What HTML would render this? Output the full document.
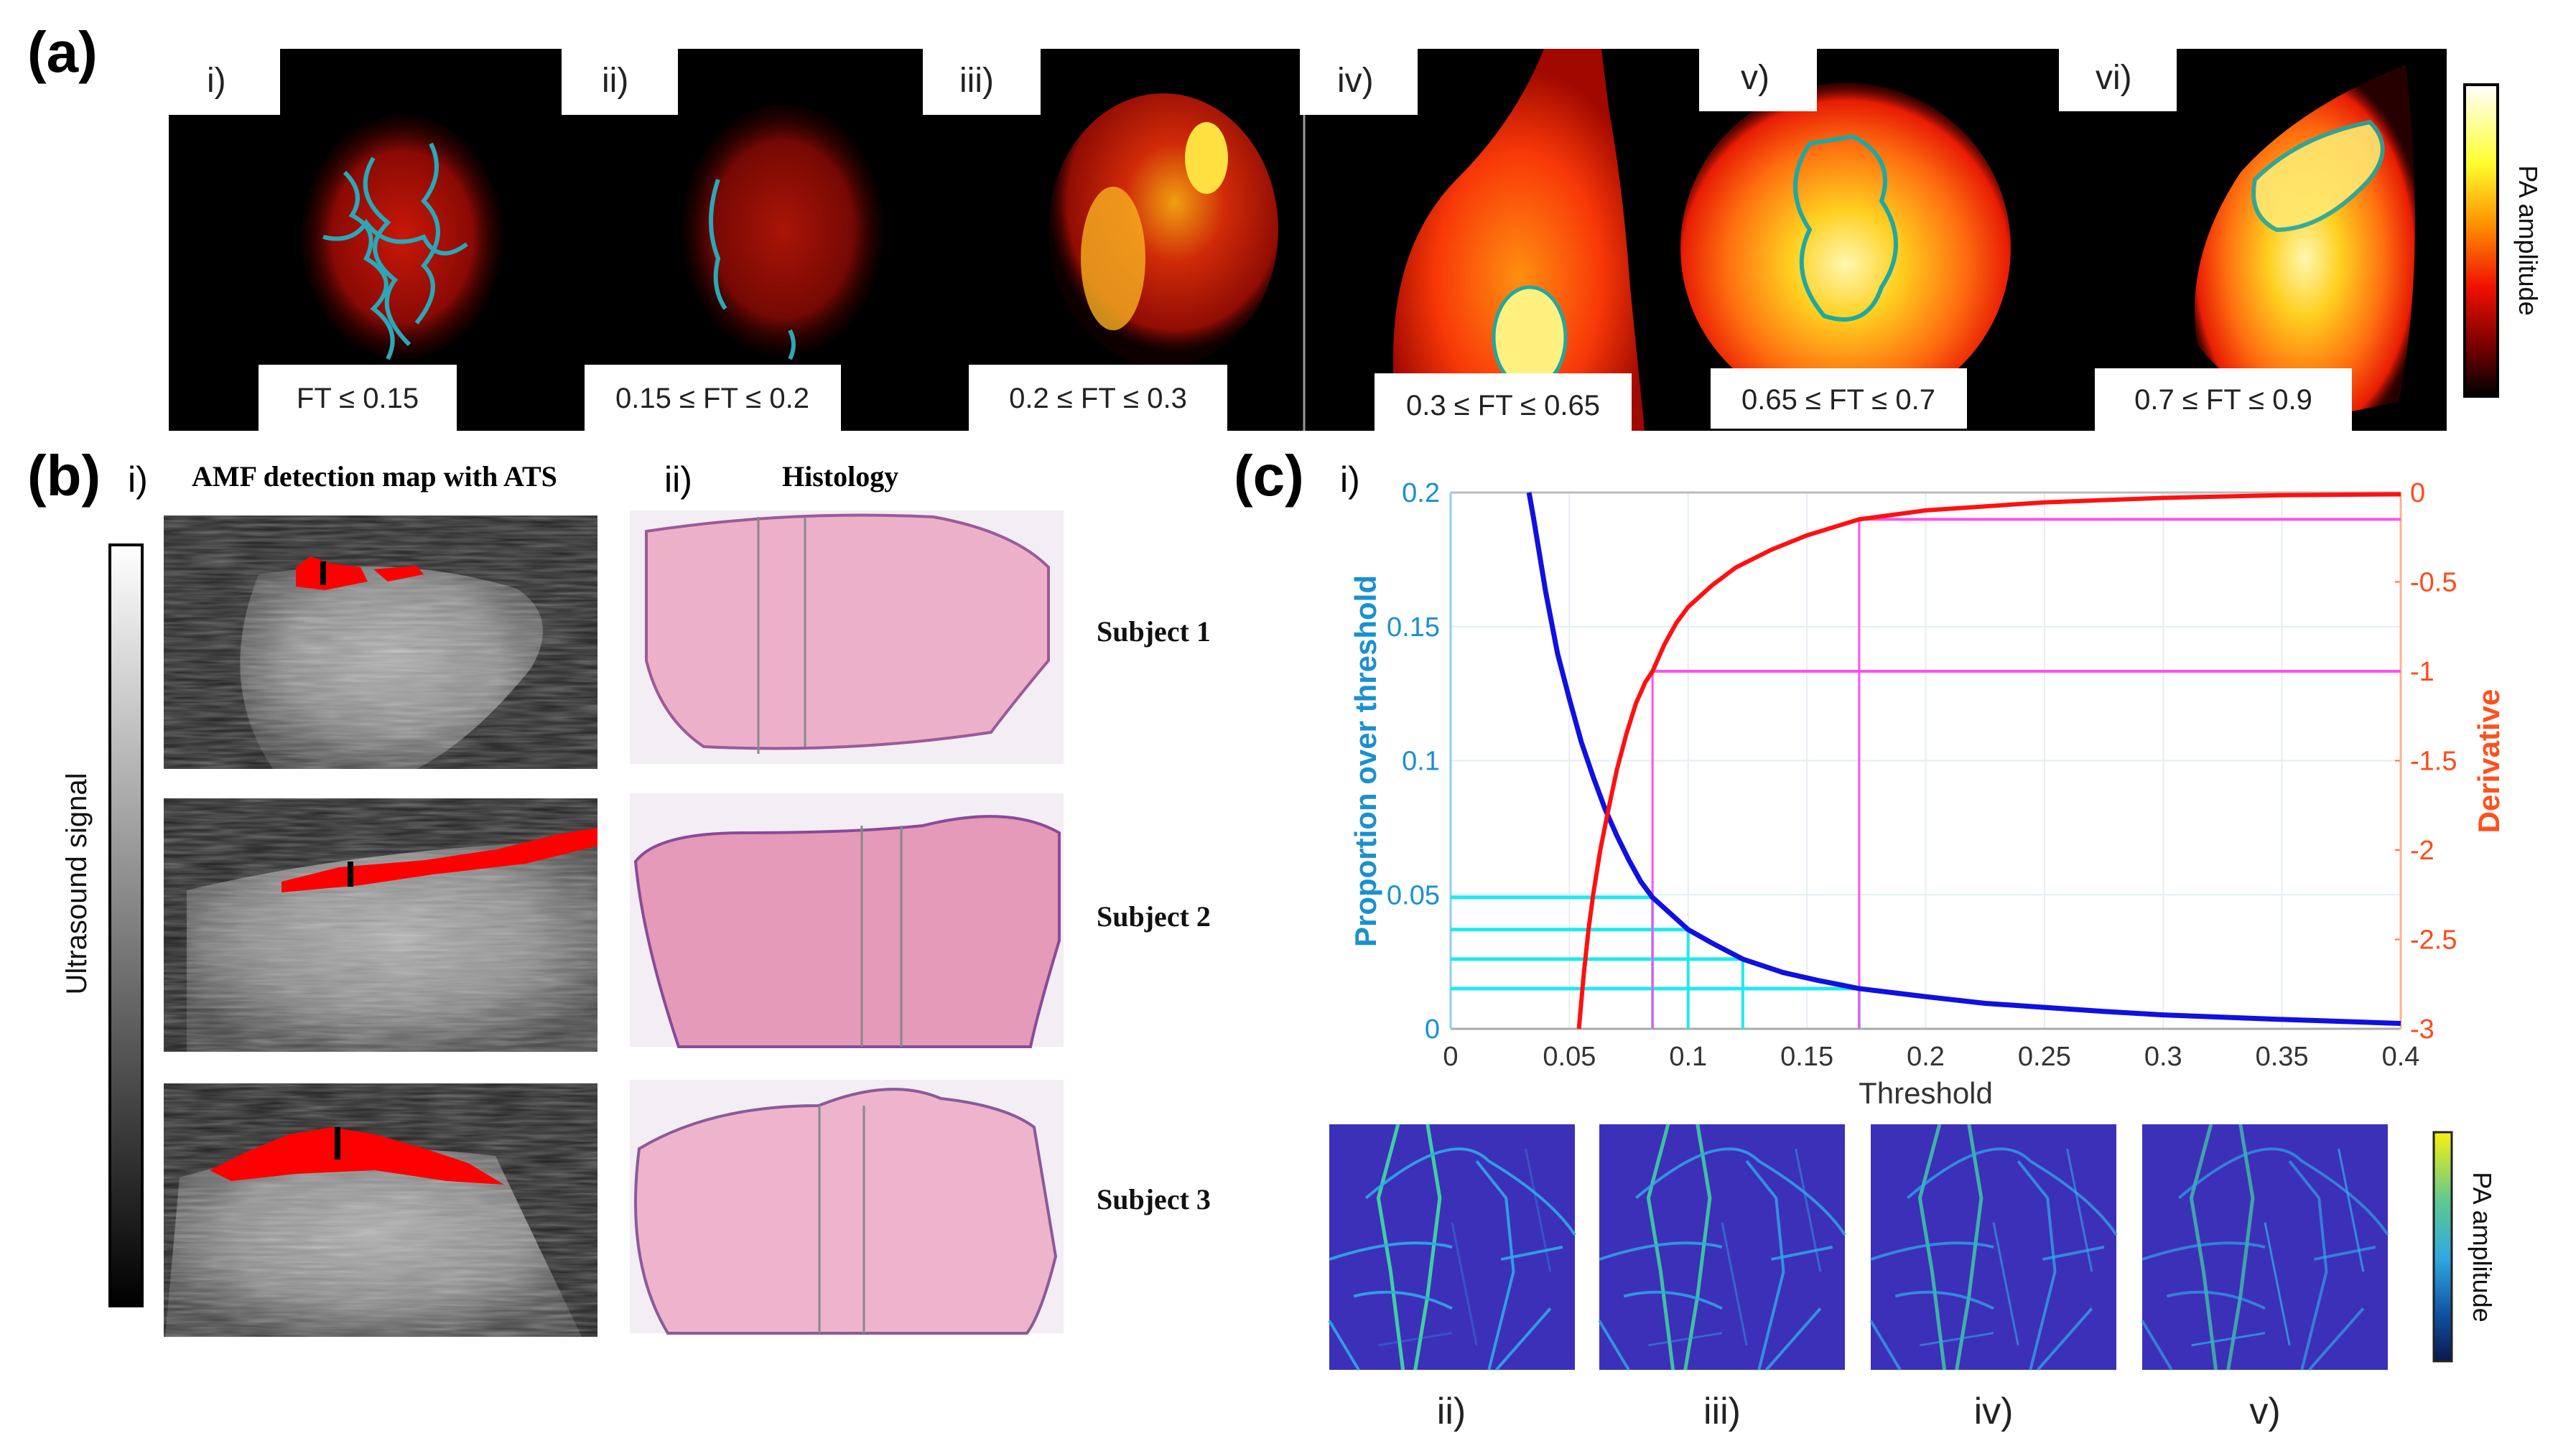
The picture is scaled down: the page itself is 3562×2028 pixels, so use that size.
<!DOCTYPE html>
<html><head><meta charset="utf-8"><style>
html,body{margin:0;padding:0;background:#fff}
svg{display:block}
text{font-family:"Liberation Sans",sans-serif}
.serif{font-family:"Liberation Serif",serif;font-weight:bold}
</style></head><body>
<svg id="fig" width="3562" height="2028" viewBox="0 0 3562 2028" xmlns="http://www.w3.org/2000/svg">
<defs>
<radialGradient id="gRed" cx="50%" cy="50%" r="50%"><stop offset="0" stop-color="#c81808"/><stop offset="0.7" stop-color="#8a0a04"/><stop offset="1" stop-color="#300000" stop-opacity="0.2"/></radialGradient>
<radialGradient id="gRedHot" cx="55%" cy="40%" r="55%"><stop offset="0" stop-color="#f0a010"/><stop offset="0.4" stop-color="#d02a08"/><stop offset="0.85" stop-color="#900c04"/><stop offset="1" stop-color="#300000" stop-opacity="0.3"/></radialGradient>
<radialGradient id="gOr" cx="50%" cy="55%" r="55%"><stop offset="0" stop-color="#fff8b0"/><stop offset="0.3" stop-color="#ffd020"/><stop offset="0.65" stop-color="#ff7010"/><stop offset="0.9" stop-color="#e81c04"/><stop offset="1" stop-color="#600000" stop-opacity="0.4"/></radialGradient>
<radialGradient id="gOr2" cx="50%" cy="60%" r="55%"><stop offset="0" stop-color="#ff9010"/><stop offset="0.6" stop-color="#f83808"/><stop offset="1" stop-color="#a00800"/></radialGradient>
<linearGradient id="cbHot" x1="0" y1="0" x2="0" y2="1"><stop offset="0" stop-color="#ffffff"/><stop offset="0.25" stop-color="#ffff30"/><stop offset="0.45" stop-color="#ff9000"/><stop offset="0.65" stop-color="#f01000"/><stop offset="0.85" stop-color="#700000"/><stop offset="1" stop-color="#000"/></linearGradient>
<linearGradient id="cbGray" x1="0" y1="0" x2="0" y2="1"><stop offset="0" stop-color="#fff"/><stop offset="1" stop-color="#000"/></linearGradient>
<linearGradient id="cbPar" x1="0" y1="0" x2="0" y2="1"><stop offset="0" stop-color="#f8f010"/><stop offset="0.3" stop-color="#60c890"/><stop offset="0.55" stop-color="#30a8e0"/><stop offset="0.8" stop-color="#1050a0"/><stop offset="1" stop-color="#0a1850"/></linearGradient>
<radialGradient id="gUS" cx="50%" cy="45%" r="60%"><stop offset="0" stop-color="#b0b0b0"/><stop offset="0.6" stop-color="#8a8a8a"/><stop offset="1" stop-color="#404040"/></radialGradient>
<filter id="noise"><feTurbulence type="fractalNoise" baseFrequency="0.015 0.2" numOctaves="2" seed="3"/><feColorMatrix type="saturate" values="0"/><feComponentTransfer><feFuncA type="table" tableValues="0 0.5"/></feComponentTransfer><feComposite in2="SourceGraphic" operator="in"/></filter>
</defs>

<g>
<text x="38" y="100" font-size="80" font-weight="bold">(a)</text>
<rect x="235" y="68" width="3172" height="532" fill="#000"/>
<line x1="1816" y1="68" x2="1816" y2="600" stroke="#999" stroke-width="3"/>
<ellipse cx="560" cy="330" rx="140" ry="170" fill="url(#gRed)"/>
<path d="M480 240 q30 30 10 60 q40 20 20 60 q50 30 10 70 q40 30 20 70 M520 220 q-30 50 20 90 q-40 40 10 80 q-30 40 20 90 M600 200 q20 40 -10 80 q40 40 0 90 q30 30 -10 80 M450 330 q40 10 60 -20 q30 40 80 20 q20 40 60 10" fill="none" stroke="#2aa8b8" stroke-width="6"/>
<ellipse cx="1090" cy="320" rx="140" ry="175" fill="url(#gRed)" opacity="0.85"/>
<path d="M1000 250 q-20 60 0 110 q-10 40 10 70 M1100 460 q10 20 0 40" fill="none" stroke="#2aa8b8" stroke-width="6"/>
<ellipse cx="1620" cy="320" rx="160" ry="190" fill="url(#gRedHot)"/>
<ellipse cx="1680" cy="220" rx="30" ry="50" fill="#ffe040"/>
<ellipse cx="1550" cy="360" rx="45" ry="100" fill="#f8b020" opacity="0.8"/>
<path d="M2150 68 q-40 100 -120 180 q-90 90 -90 250 l0 102 l350 0 l-20 -200 q-10 -140 -30 -250 l-10 -82 z" fill="url(#gOr2)"/>
<ellipse cx="2130" cy="470" rx="50" ry="70" fill="#fff080" stroke="#20a8a0" stroke-width="5"/>
<ellipse cx="2570" cy="345" rx="230" ry="230" fill="url(#gOr)"/>
<path d="M2520 200 q-40 60 0 120 q-30 60 20 120 q60 20 80 -40 q40 -60 0 -120 q20 -60 -40 -90 z" fill="none" stroke="#20a8a0" stroke-width="6"/>
<path d="M3350 90 q-150 60 -230 150 q-80 120 -60 240 q60 80 180 100 l100 -20 q40 -200 10 -470 z" fill="url(#gOr)"/>
<path d="M3140 250 q60 -60 160 -80 q40 40 -10 90 q-60 60 -120 60 q-40 -20 -30 -70 z" fill="#ffe870" stroke="#20a8a0" stroke-width="6" opacity="0.9"/>
<g fill="#fff">
<rect x="235" y="68" width="155" height="92"/><rect x="782" y="68" width="162" height="92"/><rect x="1285" y="68" width="164" height="92"/><rect x="1810" y="68" width="164" height="92"/><rect x="2366" y="68" width="164" height="87"/><rect x="2867" y="68" width="164" height="87"/>
</g>
<g font-size="48" fill="#222">
<text x="288" y="128">i)</text>
<text x="838" y="128">ii)</text>
<text x="1336" y="128">iii)</text>
<text x="1862" y="128">iv)</text>
<text x="2424" y="124">v)</text>
<text x="2918" y="124">vi)</text>
</g>
<g fill="#fff">
<rect x="360" y="508" width="276" height="92"/><rect x="814" y="508" width="357" height="92"/><rect x="1349" y="508" width="360" height="92"/><rect x="1914" y="520" width="358" height="84"/><rect x="2382" y="513" width="357" height="84"/><rect x="2917" y="513" width="358" height="87"/>
</g>
<g font-size="40" fill="#222" text-anchor="middle">
<text x="498" y="568">FT ≤ 0.15</text>
<text x="992" y="568">0.15 ≤ FT ≤ 0.2</text>
<text x="1529" y="568">0.2 ≤ FT ≤ 0.3</text>
<text x="2093" y="578">0.3 ≤ FT ≤ 0.65</text>
<text x="2560" y="570">0.65 ≤ FT ≤ 0.7</text>
<text x="3096" y="570">0.7 ≤ FT ≤ 0.9</text>
</g>
<rect x="3432" y="118" width="46" height="434" fill="url(#cbHot)" stroke="#000" stroke-width="4"/>
<text transform="translate(3508,335) rotate(90)" font-size="36" text-anchor="middle" fill="#111">PA amplitude</text>
</g>

<g>
<text x="38" y="690" font-size="80" font-weight="bold">(b)</text>
<text x="178" y="685" font-size="50">i)</text>
<text x="267" y="677" font-size="40" class="serif">AMF detection map with ATS</text>
<text x="925" y="685" font-size="50">ii)</text>
<text x="1089" y="677" font-size="40" class="serif">Histology</text>
<rect x="153" y="759" width="45" height="1060" fill="url(#cbGray)" stroke="#000" stroke-width="4"/>
<text transform="translate(120,1231) rotate(-90)" font-size="40" text-anchor="middle" fill="#111">Ultrasound signal</text>
<g>
<rect x="228" y="718" width="604" height="353" fill="#1e1e1e"/>
<path d="M360 800 q200 -30 360 20 q60 40 20 110 q-80 100 -160 141 l-200 0 q-80 -120 -20 -271 z" fill="url(#gUS)"/>
<rect x="228" y="718" width="604" height="353" fill="#ddd" filter="url(#noise)"/>
<path d="M412 790 l20 -15 l30 10 l40 5 l10 20 l-60 12 l-40 -5 z M520 793 l60 -5 l10 12 l-50 10 z" fill="#ff0000"/>
<line x1="450" y1="782" x2="450" y2="815" stroke="#000" stroke-width="8"/>
</g>
<g>
<rect x="228" y="1112" width="604" height="353" fill="#1e1e1e"/>
<path d="M260 1240 q250 -60 572 -70 l0 295 l-572 0 z" fill="url(#gUS)"/>
<rect x="228" y="1112" width="604" height="353" fill="#ddd" filter="url(#noise)"/>
<path d="M392 1228 l80 -20 l120 -10 l100 -15 l80 -20 l60 -10 l0 25 l-100 25 l-130 15 l-100 15 l-110 10 z" fill="#ff0000"/>
<line x1="488" y1="1200" x2="488" y2="1235" stroke="#000" stroke-width="8"/>
</g>
<g>
<rect x="228" y="1509" width="604" height="353" fill="#1e1e1e"/>
<path d="M250 1640 q200 -60 440 -30 l120 252 l-580 0 z" fill="url(#gUS)"/>
<rect x="228" y="1509" width="604" height="353" fill="#ddd" filter="url(#noise)"/>
<path d="M292 1630 l50 -25 l60 -25 l60 -10 l60 10 l70 20 l60 20 l50 30 l-80 -5 l-100 -15 l-110 5 l-90 10 z" fill="#ff0000"/>
<line x1="470" y1="1570" x2="470" y2="1615" stroke="#000" stroke-width="8"/>
</g>
<g>
<rect x="877" y="711" width="604" height="353" fill="#f2eef4"/>
<path d="M900 740 q200 -30 400 -20 q110 20 160 70 l0 130 q-50 60 -80 100 q-200 30 -400 20 q-60 -40 -80 -120 z" fill="#ecb0c8" stroke="#9a5a9a" stroke-width="4"/>
<line x1="1056" y1="720" x2="1056" y2="1050" stroke="#888" stroke-width="3"/><line x1="1121" y1="720" x2="1121" y2="1040" stroke="#888" stroke-width="3"/>
</g>
<g>
<rect x="877" y="1105" width="604" height="353" fill="#f2eef4"/>
<path d="M885 1200 q30 -40 150 -40 q150 0 250 -10 q120 -30 190 10 l0 150 q-30 100 -40 148 l-490 0 q-50 -150 -60 -258 z" fill="#e49ab8" stroke="#8a4a9a" stroke-width="4"/>
<line x1="1200" y1="1150" x2="1200" y2="1458" stroke="#888" stroke-width="3"/><line x1="1255" y1="1150" x2="1255" y2="1458" stroke="#888" stroke-width="3"/>
</g>
<g>
<rect x="877" y="1504" width="604" height="353" fill="#f2eef4"/>
<path d="M890 1600 q100 -60 250 -60 q100 -40 170 -10 q90 10 130 40 l30 180 q-20 80 -40 107 l-500 0 q-60 -100 -40 -257 z" fill="#eeb4cc" stroke="#8a5a9a" stroke-width="4"/>
<line x1="1141" y1="1540" x2="1141" y2="1857" stroke="#888" stroke-width="3"/><line x1="1203" y1="1540" x2="1203" y2="1857" stroke="#888" stroke-width="3"/>
</g>
<g font-size="40" class="serif" fill="#111">
<text x="1527" y="893" class="serif">Subject 1</text>
<text x="1527" y="1290" class="serif">Subject 2</text>
<text x="1527" y="1684" class="serif">Subject 3</text>
</g>
</g>

<g>
<text x="1718" y="690" font-size="80" font-weight="bold">(c)</text>
<text x="1866" y="685" font-size="50">i)</text>
<g id="chart"></g>
<g id="vessels"></g>
<rect x="3389" y="1577" width="25" height="319" fill="url(#cbPar)" stroke="#222" stroke-width="3"/>
<text transform="translate(3444,1737) rotate(90)" font-size="36" text-anchor="middle" fill="#111">PA amplitude</text>
<g font-size="52" fill="#222" text-anchor="middle">
<text x="2021" y="1983">ii)</text>
<text x="2398" y="1983">iii)</text>
<text x="2776" y="1983">iv)</text>
<text x="3154" y="1983">v)</text>
</g>
</g>
</svg>
<script>
const blueT=[0.033,0.035,0.04,0.045,0.05,0.055,0.06,0.065,0.07,0.075,0.08,0.085,0.09,0.1,0.11,0.123,0.14,0.155,0.172,0.2,0.225,0.25,0.275,0.3,0.35,0.4];
const blueV=[0.2,0.19,0.163,0.14,0.123,0.107,0.094,0.082,0.072,0.063,0.055,0.049,0.045,0.037,0.032,0.026,0.021,0.018,0.015,0.012,0.0095,0.008,0.0065,0.0052,0.0035,0.002];
const redT=[0.054,0.056,0.058,0.06,0.063,0.066,0.07,0.074,0.078,0.082,0.085,0.09,0.095,0.1,0.11,0.12,0.135,0.15,0.172,0.2,0.25,0.3,0.35,0.4];
const redV=[-3,-2.7,-2.45,-2.25,-2.0,-1.8,-1.55,-1.35,-1.18,-1.06,-1.0,-0.85,-0.73,-0.64,-0.52,-0.42,-0.32,-0.24,-0.15,-0.1,-0.055,-0.03,-0.015,-0.01];
const cyanT=[0.085,0.1,0.123,0.172];
const cyanV=[0.049,0.037,0.026,0.015];
const magT=[0.085,0.172];
const magV=[-1,-0.15];
const xTicks=[0,0.05,0.1,0.15,0.2,0.25,0.3,0.35,0.4];
const xTickLabels=["0","0.05","0.1","0.15","0.2","0.25","0.3","0.35","0.4"];
const yTicks=[0,0.05,0.1,0.15,0.2];
const yTickLabels=["0","0.05","0.1","0.15","0.2"];
const y2Ticks=[0,-0.5,-1,-1.5,-2,-2.5,-3];
const y2TickLabels=["0","-0.5","-1","-1.5","-2","-2.5","-3"];

const NS="http://www.w3.org/2000/svg";
const L=2020,R=3343,T=686,B=1433;
const X=v=>L+(v-0)/(0.4)*(R-L);
const Y=v=>B-(v/0.2)*(B-T);
const Y2=v=>T+(-v/3)*(B-T);
const chart=document.getElementById('chart');
function mk(tag,attrs,parent){const e=document.createElementNS(NS,tag);for(const k in attrs)e.setAttribute(k,attrs[k]);(parent||chart).appendChild(e);return e;}

mk('rect',{x:L,y:T,width:R-L,height:B-T,fill:'#fff'});
xTicks.forEach((t,i)=>{
  const g=mk('line',{x1:X(t),y1:T,x2:X(t),y2:B,stroke:'#e4eef2','stroke-width':2});
  
  
  const tx=mk('text',{x:X(t),y:1484,'font-size':38,'text-anchor':'middle',fill:'#333'});
  tx.textContent=xTickLabels[i];
  
  
});
yTicks.forEach((v,i)=>{
  const g=mk('line',{x1:L,y1:Y(v),x2:R,y2:Y(v),stroke:'#e4eef2','stroke-width':2});
  
  
  const tx=mk('text',{x:2005,y:Y(v)+13,'font-size':38,'text-anchor':'end',fill:'#1a90d0'});
  tx.textContent=yTickLabels[i];
  
  
});
y2Ticks.forEach((v,i)=>{
  mk('line',{x1:R-8,y1:Y2(v),x2:R,y2:Y2(v),stroke:'#ff7040','stroke-width':2});
  const tx=mk('text',{x:3356,y:Y2(v)+13,'font-size':38,'text-anchor':'start',fill:'#ff4a1a'});
  tx.textContent=y2TickLabels[i];
  
  
});
mk('line',{x1:L,y1:T,x2:R,y2:T,stroke:'#bbb','stroke-width':3});
mk('line',{x1:L,y1:B,x2:R,y2:B,stroke:'#aaa','stroke-width':3});
mk('line',{x1:L,y1:T,x2:L,y2:B,stroke:'#8cd0f0','stroke-width':3});
mk('line',{x1:R,y1:T,x2:R,y2:B,stroke:'#ffb090','stroke-width':3});

cyanT.forEach((t,i)=>{
  const h=mk('line',{x1:L,y1:Y(cyanV[i]),x2:X(t),y2:Y(cyanV[i]),stroke:'#20e8f0','stroke-width':5});
  
  
  const v=mk('line',{x1:X(t),y1:Y(cyanV[i]),x2:X(t),y2:B,stroke:'#20e8f0','stroke-width':4});
  
  
});
magT.forEach((t,i)=>{
  const h=mk('line',{x1:X(t),y1:Y2(magV[i]),x2:R,y2:Y2(magV[i]),stroke:'#ff50f0','stroke-width':4});
  
  
  const v=mk('line',{x1:X(t),y1:Y2(magV[i]),x2:X(t),y2:B,stroke:'#ff50f0','stroke-width':3});
  
  
});
const bp=mk('polyline',{points:blueT.map((t,i)=>X(t)+','+Y(blueV[i])).join(' '),fill:'none',stroke:'#1010e0','stroke-width':7});


const rp=mk('polyline',{points:redT.map((t,i)=>X(t)+','+Y2(redV[i])).join(' '),fill:'none',stroke:'#ff1010','stroke-width':6});



const xt=mk('text',{x:(L+R)/2,y:1537,'font-size':42,'text-anchor':'middle',fill:'#333'});
xt.textContent='Threshold';


const yt=mk('text',{transform:'translate(1916,1060) rotate(-90)','font-size':42,'font-weight':'bold','text-anchor':'middle',fill:'#1a90d0'});
yt.textContent='Proportion over threshold';


const y2t=mk('text',{transform:'translate(3480,1060) rotate(-90)','font-size':42,'font-weight':'bold','text-anchor':'middle',fill:'#ff5020'});
y2t.textContent='Derivative';



const vg=document.getElementById('vessels');
const imgX=[1851,2227,2605,2983];
const vessels=[
 "M0.30 1 L0.25 0.6 L0.2 0.3 L0.28 0 ",
 "M0.35 1 L0.4 0.7 L0.45 0.3 L0.4 0",
 "M0.15 0.3 Q0.5 0 0.65 0.15 Q0.9 0.3 1 0.45",
 "M0.6 0.15 L0.72 0.3 L0.75 0.6 L0.65 1",
 "M0 0.55 Q0.3 0.45 0.5 0.5 M0.7 0.55 L0.95 0.5",
 "M0 0.8 L0.12 1 M0.9 0.75 L0.68 1",
 "M0.1 0.7 Q0.3 0.65 0.5 0.75",
 "M0.5 0.4 L0.6 0.9 M0.8 0.1 L0.9 0.6 M0.2 0.9 L0.5 0.85"
];
imgX.forEach((x0,k)=>{
  const g=mk('g',{transform:'translate('+x0+',1566)'},vg);
  
  
  mk('rect',{x:0,y:0,width:342,height:342,fill:'#3c30b8'},g);
  vessels.forEach((d,j)=>{
    const dd=d.replace(/([0-9.]+) ([0-9.]+)/g,(m,a,b)=>(a*342).toFixed(1)+' '+(b*342).toFixed(1));
    mk('path',{d:dd,fill:'none',stroke:j<2?'#40e0a0':'#30a8e8','stroke-width':j<2?5:(j==7?3:4),opacity:j==7?0.3+k*0.15:0.9-k*0.08},g);
  });
});
</script>
</body></html>
